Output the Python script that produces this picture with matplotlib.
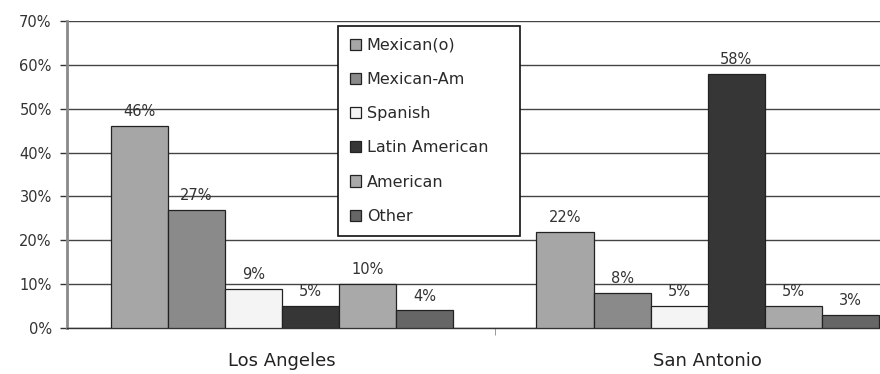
import numpy as np
from matplotlib import pyplot as plt
from matplotlib.ticker import FixedLocator, PercentFormatter

cities = ['Los Angeles', 'San Antonio']
groups = ['Mexican(o)', 'Mexican-Am', 'Spanish', 'Latin American', 'American', 'Other']
la_values = [46, 27, 9, 5, 10, 4]
sa_values = [22, 8, 5, 58, 5, 3]
bar_colors = ['#a6a6a6', '#8a8a8a', '#f4f4f4', '#363636', '#a9a9a9', '#666666']

plt.rcParams['font.family'] = 'DejaVu Sans'

fig = plt.figure(figsize=(8.8, 3.74), dpi=100)
ax = fig.add_axes([67 / 880, 46 / 374, 1 - 67 / 880, 307 / 374])

width = 0.134
x = np.arange(len(cities))
values = np.array([la_values, sa_values]).T
for i, name in enumerate(groups):
    pos = x + (i - 2.5) * width
    bars = ax.bar(pos, values[i], width, color=bar_colors[i], edgecolor='#222222',
                  linewidth=0.9, label=name, zorder=3)
    for b, v in zip(bars, values[i]):
        ax.annotate(f'{v}%', (b.get_x() + b.get_width() / 2, v),
                    xytext=(0, 5), textcoords='offset points',
                    ha='center', va='bottom', fontsize=10.5, color='#333333')

ax.set_xlim(-0.505, 1.405)
ax.set_ylim(0, 70)
ax.yaxis.set_major_locator(FixedLocator(range(0, 71, 10)))
ax.yaxis.set_major_formatter(PercentFormatter(decimals=0))
ax.grid(axis='y', color='#444444', linewidth=1.0, zorder=0)
ax.set_axisbelow(True)

ax.set_xticks(x)
ax.set_xticklabels(cities)
ax.set_xticks([0.5], minor=True)
ax.tick_params(axis='x', which='major', length=0, pad=17, labelsize=13, labelcolor='#222222')
ax.tick_params(axis='x', which='minor', length=5, color='#888888')
ax.tick_params(axis='y', length=5, width=1, color='#333333', labelsize=10.5,
               labelcolor='#333333', pad=6)

for side in ['top', 'right']:
    ax.spines[side].set_visible(False)
ax.spines['left'].set_color('#8a8a8a')
ax.spines['left'].set_linewidth(2)
ax.spines['bottom'].set_color('#333333')
ax.spines['bottom'].set_linewidth(1)

leg = ax.legend(loc='upper left',
                bbox_to_anchor=(338 / 880, 1 - 26 / 374 - 0.01, 182 / 880, 0.01),
                bbox_transform=fig.transFigure, mode='expand', fontsize=11.5,
                handlelength=0.7, handleheight=0.7, handletextpad=0.35,
                labelspacing=1.2, borderpad=0.75, borderaxespad=0,
                fancybox=False, framealpha=1, edgecolor='#111111')
leg.get_frame().set_linewidth(1.2)
for t in leg.get_texts():
    t.set_color('#2a2a2a')

fig.savefig('out.png', dpi=100)
